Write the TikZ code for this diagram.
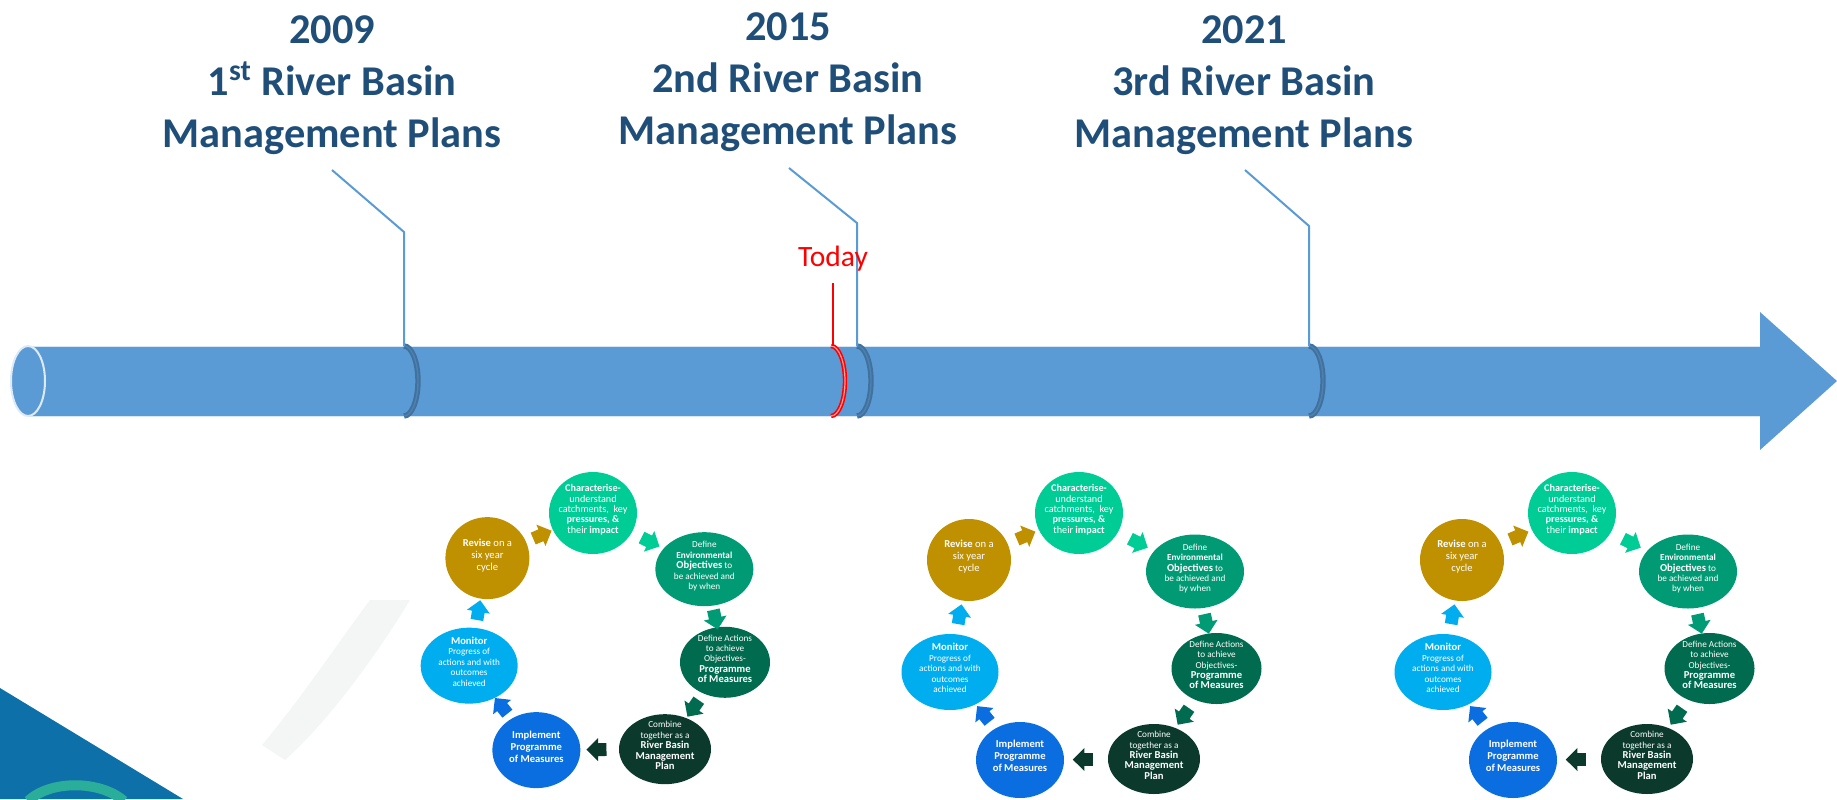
\documentclass[tikz,border=0pt]{standalone}
\usepackage{fontspec}
\setmainfont{Carlito}
\usetikzlibrary{shapes.geometric,shapes.arrows,calc}

\definecolor{arrowblue}{HTML}{5B9BD5}
\definecolor{ringblue}{HTML}{41719C}
\definecolor{titleblue}{HTML}{1F4E79}
\definecolor{charc}{HTML}{00CC96}
\definecolor{envc}{HTML}{009B74}
\definecolor{actc}{HTML}{006B4F}
\definecolor{combc}{HTML}{0B3A2C}
\definecolor{implc}{HTML}{0A6EE0}
\definecolor{monc}{HTML}{00AEEF}
\definecolor{revc}{HTML}{BF9000}
\definecolor{cornerblue}{HTML}{0E70A8}
\definecolor{swirlgreen}{HTML}{2AAE9A}
\definecolor{faint}{HTML}{F3F6F5}

\newcommand{\csmall}{\fontsize{4.6}{5.2}\selectfont}
\newcommand{\cbig}{\fontsize{5.3}{6}\selectfont}
\newcommand{\ctext}[2][\csmall]{\makebox[0pt]{\smash{#1\begin{tabular}{@{}c@{}}#2\end{tabular}}}}

\tikzset{
	cyc/.style={ellipse, inner sep=0pt, outer sep=0pt, text=white},
	blockarr/.style={single arrow, inner xsep=0pt, inner ysep=3pt, outer sep=0pt, minimum height=10pt,
		single arrow head extend=2.6pt, sloped, allow upside down},
	title/.style={font=\fontsize{21.2}{26}\selectfont\bfseries, text=titleblue,
		align=center, inner sep=0pt, anchor=north},
	callout/.style={arrowblue, line width=1pt},
	ring/.style={ringblue, line width=1pt, double=ringblue!60!arrowblue, double distance=0.7pt},
}

\begin{document}
\begin{tikzpicture}[x=0.5pt, y=-0.5pt]
	\useasboundingbox (0,0) rectangle (1837,799);

	% background
	\fill[faint] (262,745) .. controls (300,700) and (340,640) .. (370,600) -- (410,600) .. controls (380,650) and (330,720) .. (285,760) -- cycle;
	\fill[cornerblue] (0,688) -- (183,799) -- (0,799) -- cycle;
	\draw[swirlgreen, line width=5pt] (28,801) .. controls (50,780) and (100,780) .. (124,801);

	% titles
	\node[title] (t2009) at (332,15) {2009\\1\textsuperscript{st} River Basin\\Management Plans};
	\node[title] (t2015) at (788,12) {2015\\2nd River Basin\\Management Plans};
	\node[title] (t2021) at (1244,15) {2021\\3rd River Basin\\Management Plans};

	% timeline
	\fill[arrowblue] (28,346) -- (1760,346) -- (1760,312) -- (1837,381) -- (1760,450) -- (1760,416) -- (28,416) -- cycle;
	\draw[white!75!arrowblue, line width=0.5pt] (28,346) -- (1760,346) (28,416) -- (1760,416);
	\draw[white!80!arrowblue, line width=1pt, fill=arrowblue] (28,381) ellipse[x radius=17, y radius=35];

	\coordinate (m1) at (404,346);
	\coordinate (now) at (831,346);
	\coordinate (m2) at (857,346);
	\coordinate (m3) at (1309,346);
	\foreach \m in {m1,m2,m3}
		\draw[ring] (\m) arc[start angle=-90, end angle=90, x radius=14, y radius=35];
	\draw[red, line width=0.8pt, double=red!40, double distance=0.6pt] (now) arc[start angle=-90, end angle=90, x radius=14, y radius=35];

	% callouts
	\coordinate (k1) at (332,170);
	\coordinate (k2) at (789,168);
	\coordinate (k3) at (1245,170);
	\draw[callout] (k1) -- ++(72,62) -- (m1);
	\draw[callout] (k2) -- ++(68,55) -- (m2);
	\draw[callout] (k3) -- ++(64,56) -- (m3);

	% today
	\node[red, font=\fontsize{14.75}{16}\selectfont, inner sep=0pt, anchor=base] (today) at (833,266) {Today};
	\coordinate (tl) at (833,283);
	\draw[red, line width=1pt] (tl) -- (tl |- now);

	% cycles
	\foreach \i/\ox/\oy/\sc in {1/593/513/0.96, 2/1079/513/1, 3/1572/513/1}{
		\begin{scope}[shift={(\ox,\oy)}, scale=\sc]
			\node[cyc, fill=charc, minimum width=44pt, minimum height=41pt] (c\i-char) at (0,0)
				{\ctext[\fontsize{5.1}{5.2}\selectfont]{{\bfseries Characterise-}\\understand\\catchments,\ \ key\\{\bfseries pressures, \&}\\their {\bfseries impact}}};
			\node[cyc, fill=envc, minimum width=49pt, minimum height=37pt] (c\i-env) at (116,58.5)
				{\ctext{Define\\{\bfseries Environmental}\\{\cbig\bfseries Objectives} to\\be achieved and\\by when}};
			\node[cyc, fill=actc, minimum width=45pt, minimum height=35.5pt] (c\i-act) at (137.5,155.5)
				{\ctext{Define Actions\\to achieve\\Objectives-\\{\cbig\bfseries Programme}\\{\cbig\bfseries of Measures}}};
			\node[cyc, fill=combc, minimum width=46pt, minimum height=35pt] (c\i-comb) at (75,246)
				{\ctext{Combine\\together as a\\{\cbig\bfseries River Basin}\\{\cbig\bfseries Management}\\{\cbig\bfseries Plan}}};
			\node[cyc, fill=implc, minimum width=44pt, minimum height=38pt] (c\i-impl) at (-59,247)
				{\ctext[\cbig\bfseries]{Implement\\Programme\\of Measures}};
			\node[cyc, fill=monc, minimum width=48.5pt, minimum height=38pt] (c\i-mon) at (-129,159)
				{\ctext{{\cbig\bfseries Monitor}\\Progress of\\actions and with\\outcomes\\achieved}};
			\node[cyc, fill=revc, minimum width=42pt, minimum height=41pt] (c\i-rev) at (-110,47)
				{\ctext[\cbig]{{\bfseries Revise} on a\\six year\\cycle}};

			\path (c\i-rev) -- node[blockarr, fill=revc] {} (c\i-char);
			\path (c\i-char) -- node[blockarr, fill=charc] {} (c\i-env);
			\path (c\i-env) -- node[blockarr, fill=envc] {} (c\i-act);
			\path (c\i-act) -- node[blockarr, fill=actc] {} (c\i-comb);
			\path (c\i-comb) -- node[blockarr, fill=combc] {} (c\i-impl);
			\path (c\i-impl) -- node[blockarr, fill=implc] {} (c\i-mon);
			\path (c\i-mon) -- node[blockarr, fill=monc] {} (c\i-rev);
		\end{scope}
	}
\end{tikzpicture}
\end{document}
